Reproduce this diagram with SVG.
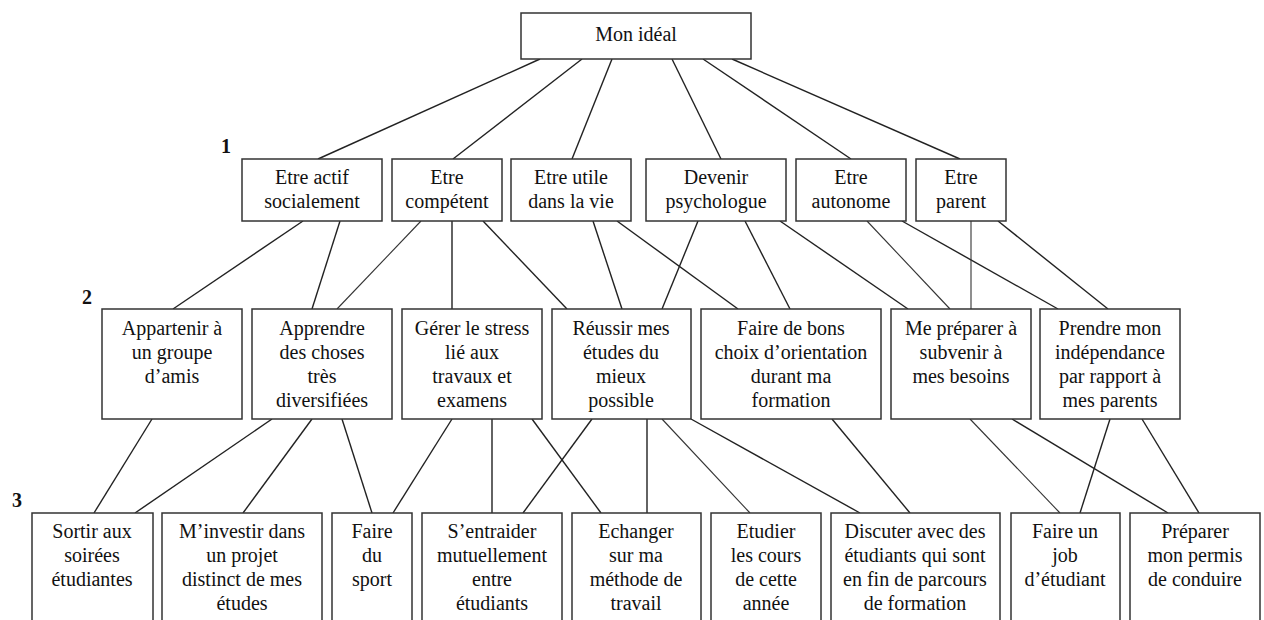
<svg xmlns="http://www.w3.org/2000/svg" width="1264" height="620" viewBox="0 0 1264 620">
<style>
.box{fill:#fff;stroke:#333;stroke-width:1.5}
.t{font-family:"Liberation Serif","Times New Roman",serif;font-size:20px;fill:#111;text-anchor:middle}
.lvl{font-family:"Liberation Serif","Times New Roman",serif;font-size:20px;font-weight:bold;fill:#111}
.c line{stroke:#222;stroke-width:1.4}
.c line.thin{stroke:#333;stroke-width:1.1}
</style>
<rect width="1264" height="620" fill="#fff"/>
<g class="c" id="connectors">
<line x1="540" y1="59" x2="318" y2="159"/>
<line x1="582" y1="59" x2="453" y2="159"/>
<line x1="612" y1="59" x2="572" y2="159"/>
<line x1="672" y1="59" x2="721" y2="159"/>
<line x1="703" y1="59" x2="851" y2="159"/>
<line x1="732" y1="59" x2="960" y2="159"/>
<line x1="303" y1="221" x2="173" y2="309"/>
<line x1="340" y1="221" x2="312" y2="309"/>
<line class="thin" x1="421" y1="221" x2="337" y2="309"/>
<line x1="452" y1="221" x2="452" y2="309"/>
<line x1="483" y1="221" x2="567" y2="309"/>
<line x1="593" y1="221" x2="622" y2="309"/>
<line x1="617" y1="221" x2="738" y2="309"/>
<line x1="698" y1="221" x2="662" y2="309"/>
<line x1="745" y1="221" x2="790" y2="309"/>
<line x1="780" y1="221" x2="908" y2="309"/>
<line class="thin" x1="867" y1="221" x2="950" y2="309"/>
<line x1="902" y1="221" x2="1058" y2="309"/>
<line class="thin" x1="971" y1="221" x2="971" y2="309"/>
<line x1="998" y1="221" x2="1108" y2="309"/>
<line x1="152" y1="419" x2="94" y2="513"/>
<line x1="272" y1="419" x2="135" y2="513"/>
<line x1="312" y1="419" x2="243" y2="513"/>
<line x1="342" y1="419" x2="372" y2="513"/>
<line x1="452" y1="419" x2="393" y2="513"/>
<line x1="492" y1="419" x2="492" y2="513"/>
<line x1="532" y1="419" x2="601" y2="513"/>
<line x1="592" y1="419" x2="523" y2="513"/>
<line x1="647" y1="419" x2="647" y2="513"/>
<line class="thin" x1="662" y1="419" x2="750" y2="513"/>
<line x1="691" y1="419" x2="860" y2="513"/>
<line x1="832" y1="419" x2="910" y2="513"/>
<line class="thin" x1="970" y1="419" x2="1060" y2="513"/>
<line x1="1012" y1="419" x2="1168" y2="513"/>
<line x1="1110" y1="419" x2="1080" y2="513"/>
<line x1="1142" y1="419" x2="1199" y2="513"/>
</g>
<g id="levels">
<text class="lvl" x="221" y="153">1</text>
<text class="lvl" x="82" y="304">2</text>
<text class="lvl" x="12" y="507">3</text>
</g>
<g id="n0"><rect class="box" x="521" y="13" width="230" height="46"/><text class="t" x="636" y="41">Mon idéal</text></g>
<g id="n1a"><rect class="box" x="242" y="159" width="140" height="62"/><text class="t" x="312" y="184">Etre actif</text><text class="t" x="312" y="208">socialement</text></g>
<g id="n1b"><rect class="box" x="392" y="159" width="110" height="62"/><text class="t" x="447" y="184">Etre</text><text class="t" x="447" y="208">compétent</text></g>
<g id="n1c"><rect class="box" x="511" y="159" width="120" height="62"/><text class="t" x="571" y="184">Etre utile</text><text class="t" x="571" y="208">dans la vie</text></g>
<g id="n1d"><rect class="box" x="646" y="159" width="140" height="62"/><text class="t" x="716" y="184">Devenir</text><text class="t" x="716" y="208">psychologue</text></g>
<g id="n1e"><rect class="box" x="796" y="159" width="110" height="62"/><text class="t" x="851" y="184">Etre</text><text class="t" x="851" y="208">autonome</text></g>
<g id="n1f"><rect class="box" x="916" y="159" width="90" height="62"/><text class="t" x="961" y="184">Etre</text><text class="t" x="961" y="208">parent</text></g>
<g id="n2a"><rect class="box" x="102" y="309" width="140" height="110"/><text class="t" x="172" y="335">Appartenir à</text><text class="t" x="172" y="359">un groupe</text><text class="t" x="172" y="383">d’amis</text></g>
<g id="n2b"><rect class="box" x="252" y="309" width="140" height="110"/><text class="t" x="322" y="335">Apprendre</text><text class="t" x="322" y="359">des choses</text><text class="t" x="322" y="383">très</text><text class="t" x="322" y="407">diversifiées</text></g>
<g id="n2c"><rect class="box" x="402" y="309" width="140" height="110"/><text class="t" x="472" y="335">Gérer le stress</text><text class="t" x="472" y="359">lié aux</text><text class="t" x="472" y="383">travaux et</text><text class="t" x="472" y="407">examens</text></g>
<g id="n2d"><rect class="box" x="552" y="309" width="139" height="110"/><text class="t" x="621" y="335">Réussir mes</text><text class="t" x="621" y="359">études du</text><text class="t" x="621" y="383">mieux</text><text class="t" x="621" y="407">possible</text></g>
<g id="n2e"><rect class="box" x="701" y="309" width="180" height="110"/><text class="t" x="791" y="335">Faire de bons</text><text class="t" x="791" y="359">choix d’orientation</text><text class="t" x="791" y="383">durant ma</text><text class="t" x="791" y="407">formation</text></g>
<g id="n2f"><rect class="box" x="891" y="309" width="140" height="110"/><text class="t" x="961" y="335">Me préparer à</text><text class="t" x="961" y="359">subvenir à</text><text class="t" x="961" y="383">mes besoins</text></g>
<g id="n2g"><rect class="box" x="1040" y="309" width="140" height="110"/><text class="t" x="1110" y="335">Prendre mon</text><text class="t" x="1110" y="359">indépendance</text><text class="t" x="1110" y="383">par rapport à</text><text class="t" x="1110" y="407">mes parents</text></g>
<g id="n3a"><rect class="box" x="32" y="513" width="121" height="130"/><text class="t" x="92" y="538">Sortir aux</text><text class="t" x="92" y="562">soirées</text><text class="t" x="92" y="586">étudiantes</text></g>
<g id="n3b"><rect class="box" x="162" y="513" width="160" height="130"/><text class="t" x="242" y="538">M’investir dans</text><text class="t" x="242" y="562">un projet</text><text class="t" x="242" y="586">distinct de mes</text><text class="t" x="242" y="610">études</text></g>
<g id="n3c"><rect class="box" x="332" y="513" width="80" height="130"/><text class="t" x="372" y="538">Faire</text><text class="t" x="372" y="562">du</text><text class="t" x="372" y="586">sport</text></g>
<g id="n3d"><rect class="box" x="422" y="513" width="140" height="130"/><text class="t" x="492" y="538">S’entraider</text><text class="t" x="492" y="562">mutuellement</text><text class="t" x="492" y="586">entre</text><text class="t" x="492" y="610">étudiants</text></g>
<g id="n3e"><rect class="box" x="572" y="513" width="129" height="130"/><text class="t" x="636" y="538">Echanger</text><text class="t" x="636" y="562">sur ma</text><text class="t" x="636" y="586">méthode de</text><text class="t" x="636" y="610">travail</text></g>
<g id="n3f"><rect class="box" x="711" y="513" width="110" height="130"/><text class="t" x="766" y="538">Etudier</text><text class="t" x="766" y="562">les cours</text><text class="t" x="766" y="586">de cette</text><text class="t" x="766" y="610">année</text></g>
<g id="n3g"><rect class="box" x="831" y="513" width="169" height="130"/><text class="t" x="915" y="538">Discuter avec des</text><text class="t" x="915" y="562">étudiants qui sont</text><text class="t" x="915" y="586">en fin de parcours</text><text class="t" x="915" y="610">de formation</text></g>
<g id="n3h"><rect class="box" x="1011" y="513" width="109" height="130"/><text class="t" x="1065" y="538">Faire un</text><text class="t" x="1065" y="562">job</text><text class="t" x="1065" y="586">d’étudiant</text></g>
<g id="n3i"><rect class="box" x="1130" y="513" width="130" height="130"/><text class="t" x="1195" y="538">Préparer</text><text class="t" x="1195" y="562">mon permis</text><text class="t" x="1195" y="586">de conduire</text></g>
</svg>
